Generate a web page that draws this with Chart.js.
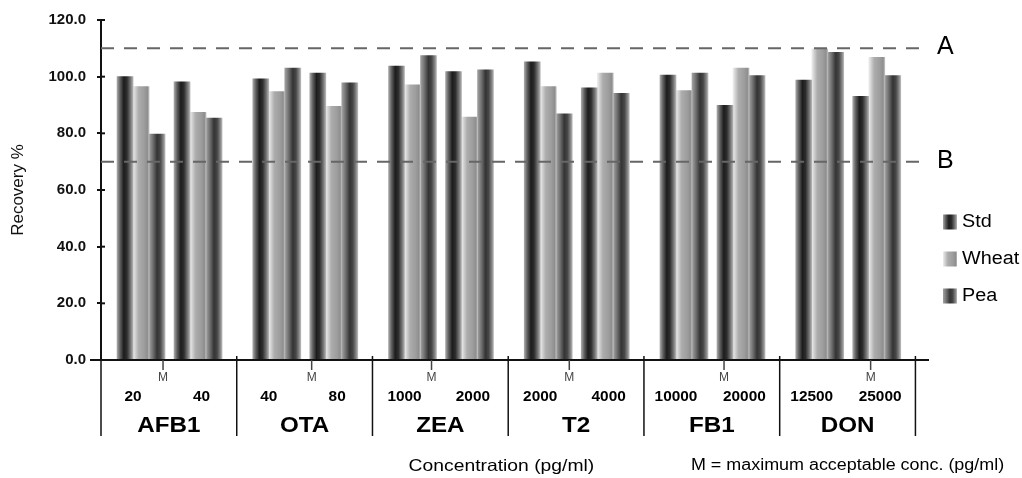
<!DOCTYPE html>
<html>
<head>
<meta charset="utf-8">
<script src="https://cdn.jsdelivr.net/npm/chart.js@4.4.1/dist/chart.umd.min.js"></script>
<style>
html, body { margin: 0; padding: 0; background: #fff; }
</style>
</head>
<body>
<canvas id="myChart" width="1022" height="478"></canvas>
<script>
const FONT = "'Liberation Sans', Arial, Helvetica, sans-serif"

// values, two concentrations per compound (low, high)
const compounds = ['AFB1', 'OTA', 'ZEA', 'T2', 'FB1', 'DON']
const concLow = ['20', '40', '1000', '2000', '10000', '12500']
const concHigh = ['40', '80', '2000', '4000', '20000', '25000']
const stdValues = [100.0, 98.2, 99.2, 101.3, 103.7, 101.8, 105.2, 96.1, 100.6, 89.9, 98.8, 93.1]
const wheatValues = [96.5, 87.4, 94.7, 89.5, 97.1, 85.7, 96.5, 101.3, 95.1, 103.0, 109.7, 106.8]
const peaValues = [79.7, 85.4, 103.0, 97.8, 107.4, 102.4, 86.9, 94.1, 101.3, 100.4, 108.6, 100.4]
// where the M (maximum acceptable conc.) mark sits inside each compound block
const maxConcMark = [0.457, 0.552, 0.435, 0.45, 0.59, 0.67]
const limitA = 110
const limitB = 70
const yTickValues = [0, 20, 40, 60, 80, 100, 120]

const SUB_OFFSET = [0.295, 0.715]
const LABEL_OFFSET = [0.236, 0.74]
const BAR_W = 16

const shades = {
    Std: [[0, '#a8a8a8'], [0.18, '#626262'], [0.42, '#1c1c1c'], [0.62, '#2e2e2e'], [0.86, '#7a7a7a'], [1, '#b4b4b4']],
    Wheat: [[0, '#eeeeee'], [0.14, '#d2d2d2'], [0.35, '#acacac'], [0.7, '#9d9d9d'], [0.9, '#8e8e8e'], [1, '#bdbdbd']],
    Pea: [[0, '#a2a2a2'], [0.25, '#6e6e6e'], [0.5, '#343434'], [0.7, '#474747'], [0.9, '#888888'], [1, '#b8b8b8']]
}

function toPoints(values) {
    return values.map((v, i) => ({ x: Math.floor(i / 2) + SUB_OFFSET[i % 2], y: v }))
}

function shade(ctx, name, x0, w) {
    const g = ctx.createLinearGradient(x0, 0, x0 + w, 0)
    shades[name].forEach(s => g.addColorStop(s[0], s[1]))
    return g
}

function barFill(context) {
    const chart = context.chart
    const name = context.dataset.label
    if (!chart.chartArea || context.type !== 'data' || !chart.scales.x) return shades[name][2][1]
    const cx = chart.scales.x.getPixelForValue(context.raw.x) + (context.datasetIndex - 1) * BAR_W
    return shade(chart.ctx, name, cx - BAR_W / 2, BAR_W)
}

function stretchedText(ctx, text, x, y, font, sx, align) {
    ctx.save()
    ctx.font = font
    ctx.textAlign = align || 'center'
    ctx.textBaseline = 'middle'
    ctx.translate(x, y)
    ctx.scale(sx, 1)
    ctx.fillText(text, 0, 0)
    ctx.restore()
}

const decorations = {
    id: 'decorations',
    afterDatasetsDraw(chart) {
        const { ctx, chartArea } = chart
        const xs = chart.scales.x
        const ys = chart.scales.y
        const bottom = chartArea.bottom
        ctx.save()
        ctx.strokeStyle = '#111'
        ctx.fillStyle = '#000'

        // x axis line, running a little left of the y axis
        ctx.lineWidth = 2
        ctx.beginPath()
        ctx.moveTo(90, bottom)
        ctx.lineTo(chartArea.right, bottom)
        ctx.stroke()

        // inner half of the y ticks
        yTickValues.forEach(v => {
            const y = ys.getPixelForValue(v)
            ctx.beginPath()
            ctx.moveTo(chartArea.left, y)
            ctx.lineTo(chartArea.left + 4, y)
            ctx.stroke()
        })

        // block separators
        ctx.lineWidth = 1.5
        for (let i = 0; i <= compounds.length; i++) {
            const x = xs.getPixelForValue(i)
            ctx.beginPath()
            ctx.moveTo(x, i === 0 ? bottom : bottom - 4)
            ctx.lineTo(x, bottom + 76)
            ctx.stroke()
        }

        compounds.forEach((name, i) => {
            const mx = xs.getPixelForValue(i + maxConcMark[i])
            ctx.strokeStyle = '#444'
            ctx.lineWidth = 1.5
            ctx.beginPath()
            ctx.moveTo(mx, bottom)
            ctx.lineTo(mx, bottom + 10)
            ctx.stroke()
            ctx.fillStyle = '#444'
            stretchedText(ctx, 'M', mx, bottom + 18, `12px ${FONT}`, 1)
            ctx.fillStyle = '#000'
            stretchedText(ctx, concLow[i], xs.getPixelForValue(i + LABEL_OFFSET[0]), bottom + 37, `bold 14px ${FONT}`, 1.1)
            stretchedText(ctx, concHigh[i], xs.getPixelForValue(i + LABEL_OFFSET[1]), bottom + 37, `bold 14px ${FONT}`, 1.1)
            stretchedText(ctx, name, xs.getPixelForValue(i + 0.5), bottom + 66, `bold 22px ${FONT}`, 1.1)
        })

        stretchedText(ctx, 'Concentration (pg/ml)', xs.getPixelForValue(2.95), 466, `16.5px ${FONT}`, 1.17)
        stretchedText(ctx, 'M = maximum acceptable conc. (pg/ml)', xs.getPixelForValue(5.5), 466, `16px ${FONT}`, 1.12)

        // acceptance limits
        ctx.strokeStyle = '#666'
        ctx.lineWidth = 2
        ctx.setLineDash([13, 10])
        ;[[limitA, 'A'], [limitB, 'B']].forEach(([v, label]) => {
            const y = ys.getPixelForValue(v)
            ctx.beginPath()
            ctx.moveTo(chartArea.left, y)
            ctx.lineTo(chartArea.right, y)
            ctx.stroke()
            stretchedText(ctx, label, chartArea.right + 8, y - 1, `25px ${FONT}`, 1, 'left')
        })
        ctx.setLineDash([])

        // legend
        chart.data.datasets.forEach((ds, i) => {
            const cy = 222 + i * 37
            ctx.fillStyle = shade(ctx, ds.label, 943, 14)
            ctx.fillRect(943, cy - 7.5, 14, 15)
            ctx.fillStyle = '#000'
            stretchedText(ctx, ds.label, 962, cy, `18px ${FONT}`, 1.1, 'left')
        })
        ctx.restore()
    }
}

new Chart(document.getElementById('myChart'), {
    type: 'bar',
    data: {
        datasets: [
            { label: 'Std', data: toPoints(stdValues), backgroundColor: barFill },
            { label: 'Wheat', data: toPoints(wheatValues), backgroundColor: barFill },
            { label: 'Pea', data: toPoints(peaValues), backgroundColor: barFill }
        ]
    },
    options: {
        responsive: false,
        animation: false,
        barThickness: BAR_W,
        borderWidth: 0,
        layout: { padding: { top: 20, right: 93, bottom: 118, left: 0 } },
        plugins: {
            legend: { display: false },
            tooltip: { enabled: false }
        },
        scales: {
            x: {
                type: 'linear',
                min: 0,
                max: 6.1,
                offset: false,
                ticks: { display: false },
                grid: { display: false, drawTicks: false },
                border: { display: false }
            },
            y: {
                min: 0,
                max: 120,
                afterFit: s => { s.width = 101 },
                ticks: {
                    stepSize: 20,
                    padding: 11,
                    color: '#111',
                    font: { family: FONT, size: 15, weight: 'bold' },
                    callback: v => v.toFixed(1)
                },
                grid: { drawOnChartArea: false, tickLength: 4, color: '#111', lineWidth: 2 },
                border: { color: '#111', width: 2 },
                title: {
                    display: true,
                    text: 'Recovery %',
                    color: '#111',
                    font: { family: FONT, size: 17 },
                    padding: { top: 8, bottom: 0 }
                }
            }
        }
    },
    plugins: [decorations]
});
</script>
</body>
</html>
